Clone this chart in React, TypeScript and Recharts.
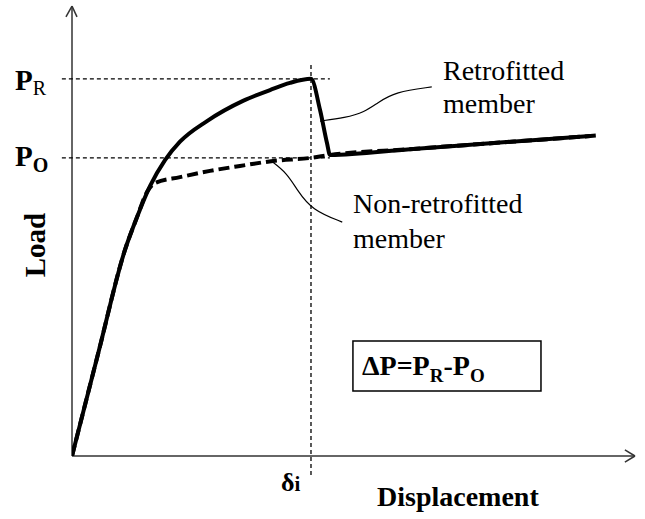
import { LineChart, Line, XAxis, YAxis, ReferenceLine, ReferenceArea } from 'recharts';

// displacement (0-100) vs load (0-100)
const retrofitted = [
  { x: 0, y: 0 },
  { x: 4.62, y: 22.7 },
  { x: 9.41, y: 45.9 },
  { x: 11.55, y: 53.2 },
  { x: 13.85, y: 60.1 },
  { x: 16.52, y: 65.9 },
  { x: 19.18, y: 70.0 },
  { x: 23.98, y: 74.6 },
  { x: 30.37, y: 79.1 },
  { x: 35.17, y: 81.5 },
  { x: 38.72, y: 83.1 },
  { x: 42.45, y: 84.0 },
  { x: 44.05, y: 77.1 },
  { x: 45.29, y: 69.7 },
  { x: 45.83, y: 67.04 },
  { x: 60, y: 68.34 },
  { x: 76, y: 69.8 },
  { x: 92.01, y: 71.27 },
];

const nonRetrofitted = [
  { x: 0, y: 0 },
  { x: 4.62, y: 22.7 },
  { x: 9.41, y: 45.9 },
  { x: 11.55, y: 53.2 },
  { x: 13.32, y: 58.8 },
  { x: 14.74, y: 60.8 },
  { x: 19.18, y: 62.1 },
  { x: 24.51, y: 63.5 },
  { x: 29.84, y: 64.6 },
  { x: 35.7, y: 65.7 },
  { x: 42.45, y: 66.4 },
  { x: 45.83, y: 67.04 },
  { x: 60, y: 68.34 },
  { x: 76, y: 69.8 },
  { x: 93.25, y: 71.38 },
];

// leader lines from labels to curves
const retroLeader = [
  { x: 44.05, y: 74.6 },
  { x: 48.5, y: 75.3 },
  { x: 52.0, y: 76.6 },
  { x: 54.2, y: 78.6 },
  { x: 57.4, y: 81.1 },
  { x: 63.9, y: 82.2 },
];

const nonRetroLeader = [
  { x: 35.2, y: 65.9 },
  { x: 38.2, y: 63.0 },
  { x: 40.0, y: 59.2 },
  { x: 42.6, y: 54.8 },
  { x: 48.0, y: 52.1 },
];

const P_R = 84.0;
const P_O = 66.4;
const DELTA_I = 42.45;

const serif = '"Liberation Serif", "Times New Roman", serif';

export default function App() {
  return (
    <div style={{ position: 'absolute', left: 0, top: 0, background: '#fff' }}>
      <LineChart width={645} height={519} margin={{ top: 7, right: 10, bottom: 63, left: 72 }}>
        <XAxis type="number" dataKey="x" domain={[0, 100]} hide allowDataOverflow />
        <YAxis type="number" dataKey="y" domain={[0, 100]} hide allowDataOverflow />

        {/* axes with open arrowheads */}
        <ReferenceLine segment={[{ x: 0, y: 0 }, { x: 0, y: 100.2 }]} stroke="#333" strokeWidth={1.5} ifOverflow="visible" />
        <ReferenceLine segment={[{ x: 0, y: 100.2 }, { x: -1.07, y: 97.8 }]} stroke="#333" strokeWidth={1.5} ifOverflow="visible" />
        <ReferenceLine segment={[{ x: 0, y: 100.2 }, { x: 0.89, y: 97.8 }]} stroke="#333" strokeWidth={1.5} ifOverflow="visible" />
        <ReferenceLine segment={[{ x: 0, y: 0 }, { x: 100, y: 0 }]} stroke="#333" strokeWidth={1.5} ifOverflow="visible" />
        <ReferenceLine segment={[{ x: 100, y: 0 }, { x: 98.2, y: 1.35 }]} stroke="#333" strokeWidth={1.5} ifOverflow="visible" />
        <ReferenceLine segment={[{ x: 100, y: 0 }, { x: 98.2, y: -1.35 }]} stroke="#333" strokeWidth={1.5} ifOverflow="visible" />

        {/* guide lines */}
        <ReferenceLine segment={[{ x: -1.8, y: P_R }, { x: 45.8, y: P_R }]} stroke="#000" strokeWidth={1.3} strokeDasharray="4 3" ifOverflow="visible" />
        <ReferenceLine segment={[{ x: -1.8, y: P_O }, { x: 45.8, y: P_O }]} stroke="#000" strokeWidth={1.3} strokeDasharray="4 3" ifOverflow="visible" />
        <ReferenceLine segment={[{ x: DELTA_I, y: 87.1 }, { x: DELTA_I, y: -4.9 }]} stroke="#000" strokeWidth={1.3} strokeDasharray="4 3" ifOverflow="visible" />

        <ReferenceArea x1={49.9} x2={83.3} y1={14.5} y2={25.6} fill="none" stroke="#000" strokeWidth={1.5} ifOverflow="visible" />

        <Line data={nonRetrofitted} dataKey="y" type="monotone" stroke="#000" strokeWidth={4} strokeDasharray="11 5" dot={false} isAnimationActive={false} />
        <Line data={retrofitted} dataKey="y" type="monotone" stroke="#000" strokeWidth={4} dot={false} isAnimationActive={false} />
        <Line data={retroLeader} dataKey="y" type="basis" stroke="#000" strokeWidth={1.2} dot={false} isAnimationActive={false} />
        <Line data={nonRetroLeader} dataKey="y" type="basis" stroke="#000" strokeWidth={1.2} dot={false} isAnimationActive={false} />

        <g fontFamily={serif} fill="#000">
          <text x={15} y={90} fontSize={29} fontWeight="bold">
            P<tspan fontSize={20} fontWeight="normal" dy={5}>R</tspan>
          </text>
          <text x={15} y={166} fontSize={29} fontWeight="bold">
            P<tspan fontSize={20} dy={6}>O</tspan>
          </text>
          <text x={45} y={245} fontSize={29} fontWeight="bold" textAnchor="middle" transform="rotate(-90 45 245)">
            Load
          </text>
          <text x={377} y={506} fontSize={28} fontWeight="bold">
            Displacement
          </text>
          <text x={281} y={491} fontSize={26} fontWeight="bold">
            δ<tspan fontSize={21}>i</tspan>
          </text>
          <text x={443} y={80} fontSize={28}>Retrofitted</text>
          <text x={443} y={113} fontSize={28}>member</text>
          <text x={353} y={213} fontSize={28}>Non-retrofitted</text>
          <text x={353} y={248} fontSize={28}>member</text>
          <text x={362} y={375} fontSize={28} fontWeight="bold">
            ΔP=P<tspan fontSize={19} dy={7}>R</tspan>
            <tspan dy={-7}>-P</tspan>
            <tspan fontSize={19} dy={7}>O</tspan>
          </text>
        </g>
      </LineChart>
    </div>
  );
}
